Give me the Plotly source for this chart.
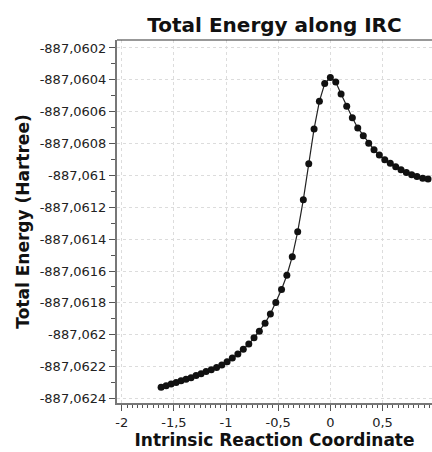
import plotly.graph_objects as go

# Intrinsic reaction coordinate
irc = [-1.623, -1.575, -1.527, -1.479, -1.432, -1.384, -1.336, -1.288, -1.240, -1.192,
       -1.142, -1.091, -1.041, -0.990, -0.940, -0.887, -0.835, -0.782, -0.732, -0.681,
       -0.626, -0.575, -0.523, -0.468, -0.417, -0.365, -0.313, -0.259, -0.207, -0.156,
       -0.105, -0.054, 0.000,
       0.052, 0.103, 0.157, 0.211, 0.263, 0.316, 0.368, 0.419, 0.470, 0.522,
       0.575, 0.627, 0.678, 0.729, 0.780, 0.831, 0.886, 0.937]

# Total energy (Hartree)
energy = [-887.0623290, -887.0623190, -887.0623080, -887.0623000, -887.0622890, -887.0622790,
          -887.0622690, -887.0622560, -887.0622440, -887.0622310, -887.0622190, -887.0622050,
          -887.0621890, -887.0621690, -887.0621460, -887.0621210, -887.0620910, -887.0620580,
          -887.0620190, -887.0619780, -887.0619270, -887.0618690, -887.0617980, -887.0617160,
          -887.0616260, -887.0615100, -887.0613530, -887.0611520, -887.0609270, -887.0607080,
          -887.0605350, -887.0604230, -887.0603860,
          -887.0604140, -887.0604890, -887.0605660, -887.0606380, -887.0607020, -887.0607510,
          -887.0607980, -887.0608390, -887.0608710, -887.0609010, -887.0609240, -887.0609460,
          -887.0609640, -887.0609810, -887.0609960, -887.0610070, -887.0610180, -887.0610230]

x_tickvals = [-2, -1.5, -1, -0.5, 0, 0.5]
x_ticktext = ["-2", "-1,5", "-1", "-0,5", "0", "0,5"]
y_tickvals = [-887.0602, -887.0604, -887.0606, -887.0608, -887.0610, -887.0612,
              -887.0614, -887.0616, -887.0618, -887.0620, -887.0622, -887.0624]
y_ticktext = ["-887,0602", "-887,0604", "-887,0606", "-887,0608", "-887,061", "-887,0612",
              "-887,0614", "-887,0616", "-887,0618", "-887,062", "-887,0622", "-887,0624"]

title_text = "Total Energy along IRC"
x_title = "Intrinsic Reaction Coordinate"
y_title = "Total Energy (Hartree)"

FONT = "DejaVu Sans, Verdana, sans-serif"

fig = go.Figure()
fig.add_trace(go.Scatter(
    x=irc, y=energy, mode="lines+markers",
    line=dict(color="#222222", width=1.2),
    marker=dict(color="#111111", size=7, line=dict(width=0)),
    showlegend=False,
))

fig.update_layout(
    width=432, height=452,
    margin=dict(l=117, r=0, t=40, b=49),
    paper_bgcolor="white", plot_bgcolor="white",
    font=dict(family=FONT, color="#222222", size=13),
    title=dict(text="<b>" + title_text + "</b>", x=(117 + 432) / 2 / 432, xanchor="center",
               xref="container",
               y=1 - 25 / 452, yanchor="middle", yref="container",
               font=dict(size=20, color="#111111", family=FONT)),
    shapes=[dict(type="line", xref="paper", yref="paper", x0=0, x1=1, y0=1, y1=1,
                 line=dict(color="#333333", width=1.2))],
)

fig.update_xaxes(
    range=[-2.046, 0.975],
    tickmode="array", tickvals=x_tickvals, ticktext=x_ticktext,
    ticks="outside", ticklen=6, tickwidth=1, tickcolor="#555555",
    showline=True, linecolor="#777777", linewidth=2,
    showgrid=True, gridcolor="#dcdcdc", griddash="dot", gridwidth=1,
    zeroline=False,
    tickfont=dict(size=13, color="#222222"),
    minor=dict(tickmode="linear", tick0=0, dtick=0.05, ticks="outside", ticklen=3,
               tickcolor="#555555", showgrid=False),
    title=dict(text="<b>" + x_title + "</b>", font=dict(size=17, color="#111111"), standoff=4),
)
fig.update_yaxes(
    range=[-887.062428, -887.060150],
    tickmode="array", tickvals=y_tickvals, ticktext=y_ticktext,
    ticks="outside", ticklen=6, tickwidth=1, tickcolor="#555555",
    showline=True, linecolor="#777777", linewidth=2,
    showgrid=True, gridcolor="#dcdcdc", griddash="dot", gridwidth=1,
    zeroline=False,
    tickfont=dict(size=13, color="#222222"),
    minor=dict(tickmode="linear", tick0=-887.0602, dtick=0.0001, ticks="outside", ticklen=4,
               tickcolor="#555555", showgrid=False),
    title=dict(text="<b>" + y_title + "</b>", font=dict(size=17, color="#111111"), standoff=6),
)

fig.write_html("out.html",
               config={"displayModeBar": False},
               post_script="document.body.style.margin='0';document.body.style.overflow='hidden';")
